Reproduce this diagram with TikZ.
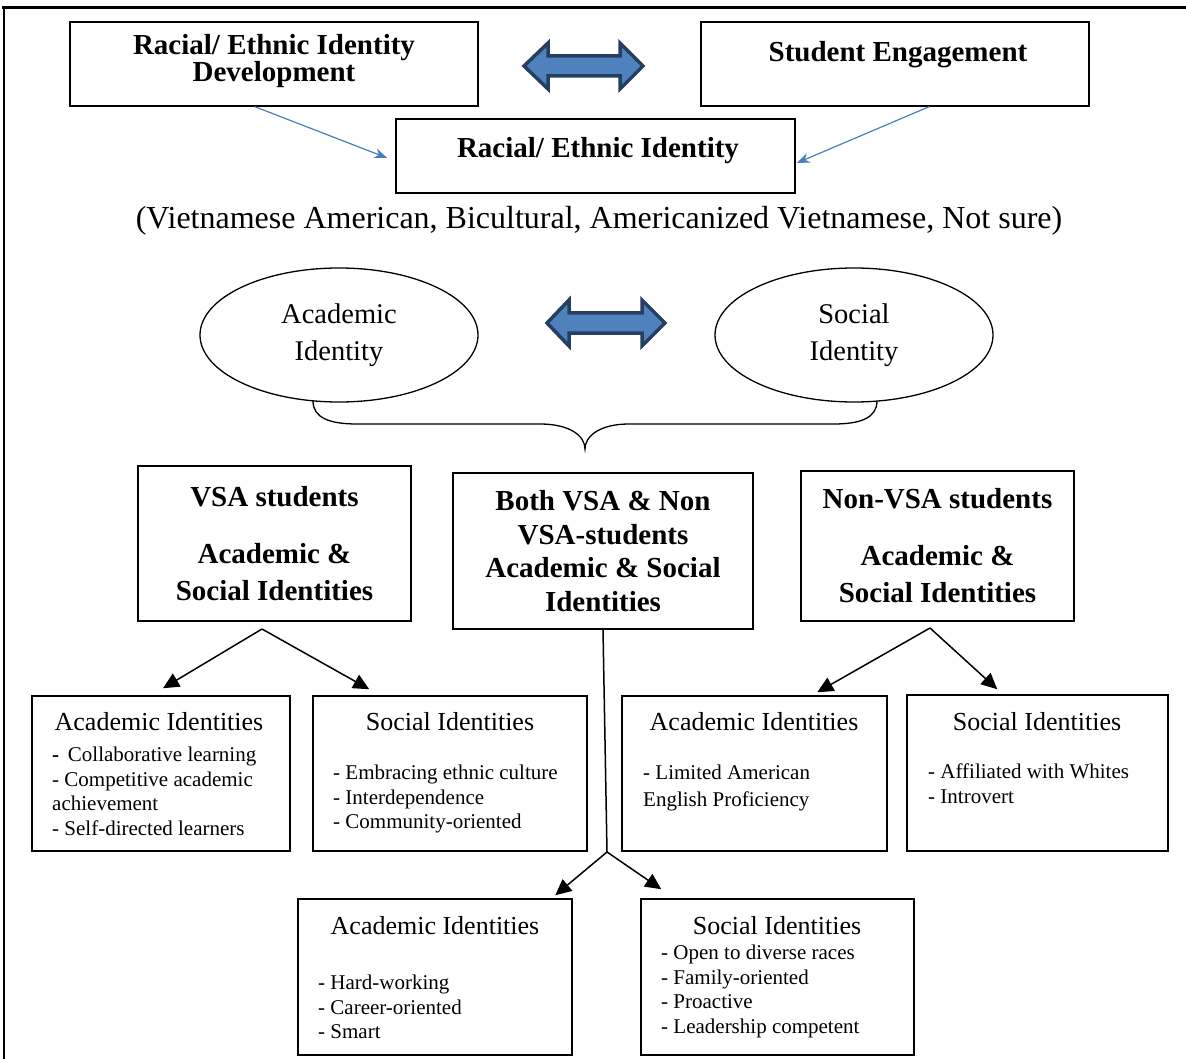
\documentclass[tikz,border=0pt]{standalone}
\usepackage{fontspec}
\setmainfont{Liberation Serif}
\usetikzlibrary{positioning}
\usetikzlibrary{shapes.geometric}
\usetikzlibrary{arrows.meta}

\definecolor{arrowfill}{HTML}{4F81BD}
\definecolor{arrowedge}{HTML}{243F60}
\definecolor{linkblue}{HTML}{4A7EBB}

\tikzset{
  box/.style={draw, line width=1.5pt, inner sep=0pt},
  topbold/.style={font=\fontsize{29}{26}\selectfont\bfseries, align=center, inner sep=0pt},
  headbold/.style={box, font=\fontsize{29}{37}\selectfont\bfseries, align=center},
  oval/.style={ellipse, draw, line width=1.3pt, inner sep=0pt, font=\fontsize{28.5}{37}\selectfont, align=center},
  subhead/.style={font=\fontsize{26}{30}\selectfont, inner sep=0pt},
  sublist/.style={font=\fontsize{21}{24.5}\selectfont, align=left, anchor=north west, inner sep=0pt},
  dblarrow/.style={draw=arrowedge, fill=arrowfill, line width=3.5pt, line join=miter},
  link/.style={linkblue, line width=1.2pt, -{Stealth[length=13pt,width=10pt]}},
  fork/.style={line width=1.5pt, -{Triangle[length=16pt,width=15pt]}}
}

\begin{document}
\begin{tikzpicture}[x=1pt,y=-1pt]
\useasboundingbox (0,0) rectangle (1186,1059);

% frame
\draw[line width=3pt] (2,8) -- (1186,8);
\draw[line width=1.5pt] (4,8) -- (4,1059);

% --- top row ---
\node[box, minimum width=408, minimum height=84] (raceDev) at (274,64) {};
\node[topbold] (raceDevText) at (274,61) {Racial/ Ethnic Identity\\Development};
\node[box, minimum width=388, minimum height=84] (engage) at (895,64) {};
\node[topbold] (engageText) at (898,55) {Student Engagement};
\node[box, minimum width=399, minimum height=74] (raceId) at (595.5,156) {};
\node[topbold] (raceIdText) at (598,151) {Racial/ Ethnic Identity};
\node[font=\fontsize{32}{36}\selectfont, inner sep=0pt] (raceTypes) at (599,221)
  {(Vietnamese American, Bicultural, Americanized Vietnamese, Not sure)};

\draw[link] ([xshift=-19pt]raceDev.south) -- ([xshift=-8pt,yshift=-2pt]raceId.west);
\draw[link] ([xshift=34pt]engage.south) -- ([xshift=1pt,yshift=-7pt]raceId.east);

\draw[dblarrow] (524,66) -- (548,43) -- (548,56) -- (620,56) -- (620,43) -- (643,66)
  -- (620,89) -- (620,76) -- (548,76) -- (548,89) -- cycle;

% --- identities ---
\node[oval, minimum width=278, minimum height=134] (acadId) at (339,335) {Academic\\Identity};
\node[oval, minimum width=278, minimum height=134] (socId) at (854,335) {Social\\Identity};

\draw[dblarrow] (547,323) -- (569,300) -- (569,313) -- (642,313) -- (642,300) -- (665,323)
  -- (642,346) -- (642,333) -- (569,333) -- (569,346) -- cycle;

% brace
\draw[line width=1.3pt] (313,401) .. controls (313,418) and (330,424) .. (357,424) -- (540,424)
  .. controls (570,424) and (585,436) .. (585,449)
  .. controls (585,436) and (600,424) .. (629,424) -- (834,424)
  .. controls (860,424) and (877,418) .. (877,401);

% --- groups ---
\node[headbold, minimum width=273, minimum height=155] (vsa) at (274.5,543.5)
  {VSA students\\[20pt]Academic \&\\Social Identities};
\node[headbold, font=\fontsize{29}{33.7}\selectfont\bfseries, minimum width=300, minimum height=156] (both) at (603,551)
  {Both VSA \& Non\\VSA-students\\Academic \& Social\\Identities};
\node[headbold, minimum width=273, minimum height=150] (nonVsa) at (937.5,546)
  {Non-VSA students\\[20pt]Academic \&\\Social Identities};

% --- VSA ---
\node[box, minimum width=258, minimum height=155] (acadVSA) at (161,773.5) {};
\node[subhead] (acadVSAhead) at (159,722) {Academic Identities};
\node[sublist] (acadVSAlist) at (52,747) {{\bfseries -}\, Collaborative learning\\- Competitive academic\\achievement\\- Self-directed learners};

\node[box, minimum width=274, minimum height=155] (socVSA) at (450,773.5) {};
\node[subhead] (socVSAhead) at (450,722) {Social Identities};
\node[sublist] (socVSAlist) at (333,765) {- Embracing ethnic culture\\- Interdependence\\- Community-oriented};

% --- Non-VSA ---
\node[box, minimum width=265, minimum height=155] (acadNon) at (754.5,773.5) {};
\node[subhead] (acadNonhead) at (754,722) {Academic Identities};
\node[sublist, font=\fontsize{21}{27}\selectfont] (acadNonlist) at (643,765) {- Limited American\\English Proficiency};

\node[box, minimum width=261, minimum height=156] (socNon) at (1037.5,773) {};
\node[subhead] (socNonhead) at (1037,722) {Social Identities};
\node[sublist] (socNonlist) at (928,764) {- Affiliated with Whites\\- Introvert};

% --- Both ---
\node[box, minimum width=274, minimum height=156] (acadBoth) at (435,977) {};
\node[subhead] (acadBothhead) at (435,926) {Academic Identities};
\node[sublist] (acadBothlist) at (318,975) {- Hard-working\\- Career-oriented\\- Smart};

\node[box, minimum width=273, minimum height=156] (socBoth) at (777.5,977) {};
\node[subhead] (socBothhead) at (777,926) {Social Identities};
\node[sublist] (socBothlist) at (661,945) {- Open to diverse races\\- Family-oriented\\- Proactive\\- Leadership competent};

% forks
\coordinate (vsaFork) at (262,629);
\draw[fork] (vsaFork) -- ([xshift=2pt,yshift=7pt]acadVSA.north);
\draw[fork] (vsaFork) -- ([xshift=57pt,yshift=6pt]socVSA.north west);

\coordinate (nonFork) at (930,628);
\draw[fork] (nonFork) -- ([xshift=196pt,yshift=3pt]acadNon.north west);
\draw[fork] (nonFork) -- ([xshift=91pt,yshift=5pt]socNon.north west);

\coordinate (bothFork) at (607,852);
\draw[line width=1.5pt] (both.south) -- (bothFork);
\draw[fork] (bothFork) -- ([xshift=258pt,yshift=3pt]acadBoth.north west);
\draw[fork] (bothFork) -- ([xshift=21pt,yshift=9pt]socBoth.north west);

\end{tikzpicture}
\end{document}
